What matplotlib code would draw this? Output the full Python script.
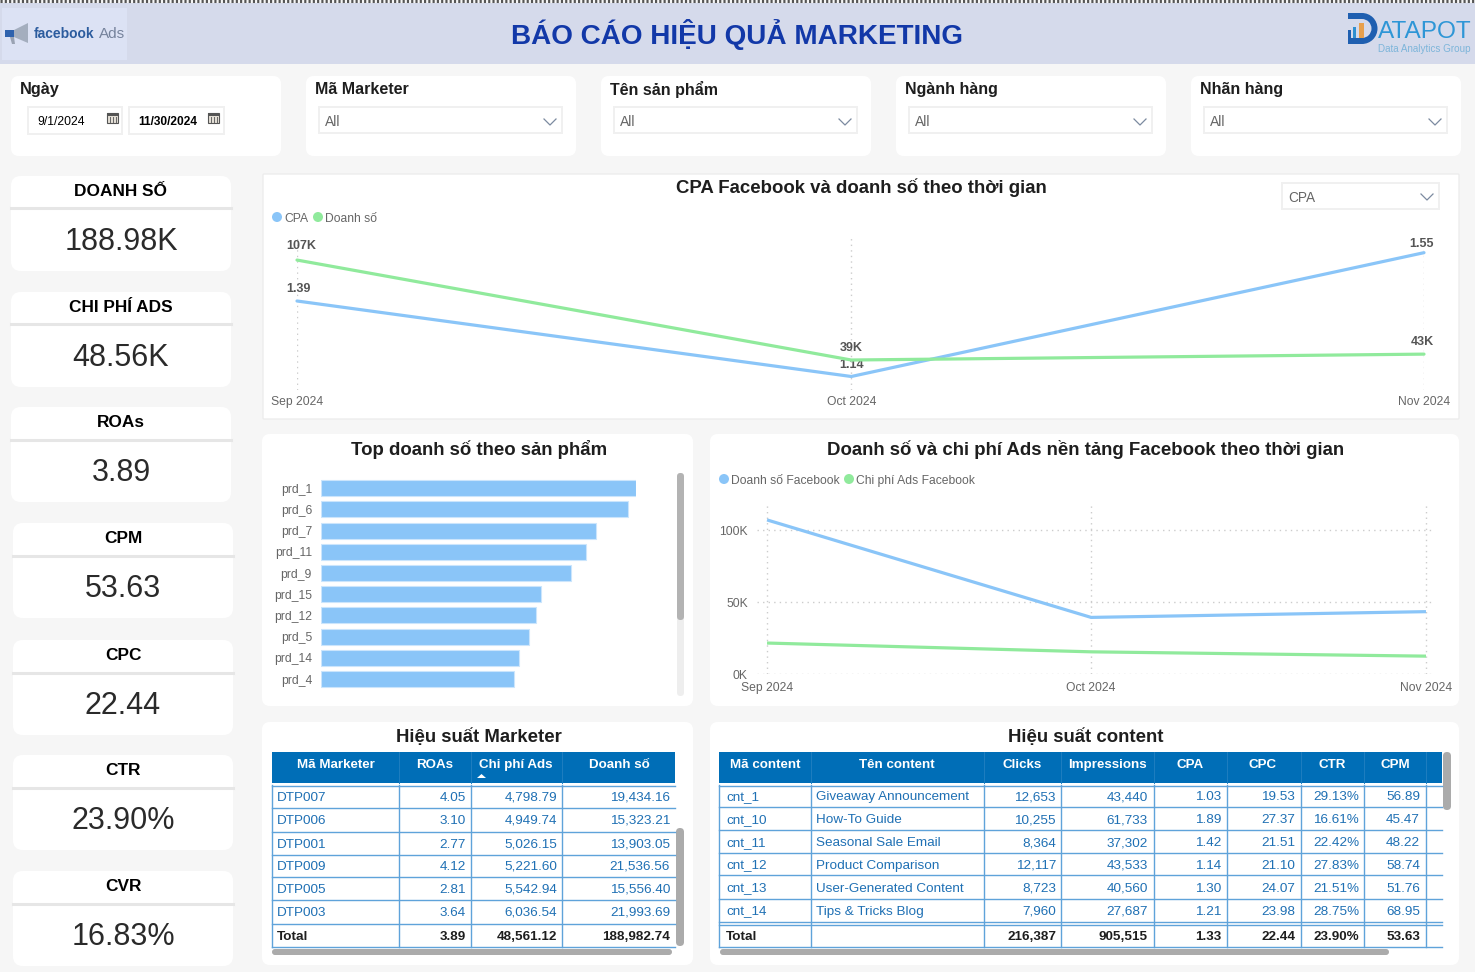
import matplotlib
matplotlib.use("Agg")
import matplotlib.pyplot as plt
import pandas as pd
from matplotlib.patches import FancyBboxPatch, Rectangle, Polygon, Wedge, Circle

plt.rcParams['font.family'] = ['Liberation Sans', 'DejaVu Sans']

W, H = 1475, 972

# Data
months = pd.to_datetime(["2024-09-01", "2024-10-01", "2024-11-01"])
month_labels = ["Sep 2024", "Oct 2024", "Nov 2024"]
cpa = [1.39, 1.14, 1.55]
sales_k = [107, 39, 43]
fb_sales_k = [107, 39.3, 43.3]
fb_spend_k = [21.5, 15.4, 12.4]

products = ["prd_1", "prd_6", "prd_7", "prd_11", "prd_9", "prd_15", "prd_12", "prd_5", "prd_14", "prd_4"]
product_sales = [18.9, 18.4, 16.5, 15.9, 15.0, 13.2, 12.9, 12.5, 11.9, 11.6]

kpi_names = ["DOANH SỐ", "CHI PHÍ ADS", "ROAs", "CPM", "CPC", "CTR", "CVR"]
kpi_values = ["188.98K", "48.56K", "3.89", "53.63", "22.44", "23.90%", "16.83%"]

filter_names = ["Mã Marketer", "Tên sản phẩm", "Ngành hàng", "Nhãn hàng"]

marketer_ids = ["DTP007", "DTP006", "DTP001", "DTP009", "DTP005", "DTP003"]
marketer_roas = [4.05, 3.10, 2.77, 4.12, 2.81, 3.64]
marketer_spend = [4798.79, 4949.74, 5026.15, 5221.60, 5542.94, 6036.54]
marketer_sales = [19434.16, 15323.21, 13903.05, 21536.56, 15556.40, 21993.69]
marketer_total = ["Total", "3.89", "48,561.12", "188,982.74"]

content_ids = ["cnt_1", "cnt_10", "cnt_11", "cnt_12", "cnt_13", "cnt_14"]
content_names = ["Giveaway Announcement", "How-To Guide", "Seasonal Sale Email",
                 "Product Comparison", "User-Generated Content", "Tips & Tricks Blog"]
content_clicks = [12653, 10255, 8364, 12117, 8723, 7960]
content_impr = [43440, 61733, 37302, 43533, 40560, 27687]
content_cpa = [1.03, 1.89, 1.42, 1.14, 1.30, 1.21]
content_cpc = [19.53, 27.37, 21.51, 21.10, 24.07, 23.98]
content_ctr = [29.13, 16.61, 22.42, 27.83, 21.51, 28.75]
content_cpm = [56.89, 45.47, 48.22, 58.74, 51.76, 68.95]
content_total = ["Total", "", "216,387", "905,515", "1.33", "22.44", "23.90%", "53.63"]

# Colours
BG = "#F6F6F6"
BAND = "#D5DAEB"
BLUE = "#8AC5F8"
GREEN = "#90EA9C"
DARK = "#1E1E1E"
GREY = "#666666"
HEAD = "#006EB7"
CELL = "#1F70B4"
RULE = "#5FA3DA"
DOTS = (0, (1, 3))

fig = plt.figure(figsize=(W / 100, H / 100), dpi=100, facecolor=BG)
bg = fig.add_axes([0, 0, 1, 1])
bg.set_xlim(0, W)
bg.set_ylim(H, 0)
bg.axis("off")


def px_axes(x0, y0, x1, y1):
    ax = fig.add_axes([x0 / W, 1 - y1 / H, (x1 - x0) / W, (y1 - y0) / H])
    ax.patch.set_alpha(0)
    for s in ax.spines.values():
        s.set_visible(False)
    return ax


def label(x, y, s, size=10, color=DARK, weight="normal", ha="left"):
    bg.text(x, y, s, fontsize=size, color=color, fontweight=weight, ha=ha, va="center_baseline")


def panel(x0, y0, x1, y1, r=8, edge="none"):
    bg.add_patch(FancyBboxPatch((x0 + r, y0 + r), x1 - x0 - 2 * r, y1 - y0 - 2 * r,
                                boxstyle=f"round,pad={r},rounding_size={r}",
                                fc="white", ec=edge, lw=1))


def box(x0, y0, x1, y1, edge="#F0F0F0"):
    bg.add_patch(Rectangle((x0, y0), x1 - x0, y1 - y0, fc="white", ec=edge, lw=1.4))


def chevron(x, y):
    bg.plot([x, x + 6, x + 12], [y, y + 6, y], color="#7C8AA0", lw=0.9)


def scrollbar(x0, y0, x1, y1, color="#ABABAB"):
    r = min(x1 - x0, y1 - y0) / 2
    bg.add_patch(FancyBboxPatch((x0 + r, y0 + r), x1 - x0 - 2 * r, y1 - y0 - 2 * r,
                                boxstyle=f"round,pad={r},rounding_size={r}", fc=color, ec="none"))


def calendar(x, y):
    bg.add_patch(Rectangle((x, y), 11, 10, fc="#E4DFD6", ec="#555555", lw=0.8))
    bg.add_patch(Rectangle((x, y), 11, 3, fc="#555555", ec="none"))
    for i in range(3):
        bg.plot([x + 2.5 + i * 3] * 2, [y + 4, y + 9], color="#666666", lw=0.7)


def legend_item(x, y, color, s):
    bg.add_patch(Circle((x, y), 5, fc=color, ec="none"))
    label(x + 7, y, s, 8.7, GREY)


# Header band
bg.add_patch(Rectangle((0, 3), W, 61, fc=BAND, ec="none"))
bg.plot([0, W], [1.5, 1.5], color="#555555", lw=2.2, ls=(0, (0.7, 0.7)))
label(737, 32, "BÁO CÁO HIỆU QUẢ MARKETING", 20.1, "#1238A8", "bold", "center")

# facebook Ads logo
bg.add_patch(Rectangle((2, 8), 125, 52, fc="#DCE2F4", ec="none"))
bg.add_patch(Polygon([(14, 30), (28, 23), (28, 43), (14, 37)], fc="#A4AEBE", ec="none"))
bg.add_patch(Rectangle((5, 30), 9, 7, fc="#2F62AD", ec="none"))
bg.add_patch(Polygon([(10, 37), (14, 37), (15, 44), (12, 44)], fc="#9AA3B3", ec="none"))
label(34, 33, "facebook", 10, "#2C5C9E", "bold")
label(99, 33, "Ads", 11, "#76839C")

# DATAPOT logo
bg.add_patch(Wedge((1362, 28.5), 15.5, -90, 90, width=6, fc="#1F5FB0", ec="none"))
bg.add_patch(Rectangle((1348, 13), 14, 6, fc="#1F5FB0", ec="none"))
bg.add_patch(Rectangle((1348, 38), 14, 6, fc="#1F5FB0", ec="none"))
bg.add_patch(Rectangle((1348, 30), 3, 8, fc="#1F5FB0", ec="none"))
bg.add_patch(Rectangle((1353, 27), 3, 11, fc="#2E8FD0", ec="none"))
bg.add_patch(Rectangle((1359, 23), 5, 15, fc="#E8A04C", ec="none"))
label(1378, 29, "ATAPOT", 17.6, "#2E96D6")
label(1378, 47.5, "Data Analytics Group", 7.1, "#7DB5DA")

# Date filter
panel(11, 76, 281, 156)
label(20, 88, "Ngày", 11.7, DARK, "bold")
box(28, 107, 122, 134)
box(129, 107, 224, 134)
label(37, 120.5, "9/1/2024", 8.8, "black")
label(138, 120.5, "11/30/2024", 8.6, "black", "bold")
calendar(107, 113)
calendar(208, 113)

# Dropdown filters
for i, name in enumerate(filter_names):
    x = 306 + 295 * i
    panel(x, 76, x + 270, 156)
    label(x + 9, 88, name, 11.5, DARK, "bold")
    box(x + 13, 107, x + 256, 133)
    label(x + 19, 120, "All", 10, GREY)
    chevron(x + 238, 119)

# KPI cards
card_x = [11, 11, 11, 13, 13, 13, 13]
card_y = [176, 292, 407, 523, 640, 755, 871]
for name, value, x, y in zip(kpi_names, kpi_values, card_x, card_y):
    panel(x, y, x + 220, y + 95, 10)
    label(x + 110, y + 14, name, 12.4, "black", "bold", "center")
    bg.plot([x, x + 220], [y + 32.5, y + 32.5], color="#E6E6E6", lw=2.2)
    label(x + 110, y + 62.5, value, 22, "#2A2A2A", "normal", "center")

# Chart panels
panel(263, 174, 1459, 419, 1, "#EDEDED")
panel(262, 434, 693, 706)
panel(710, 434, 1459, 706)
panel(262, 722, 693, 965)
panel(710, 722, 1459, 965)

label(861, 186, "CPA Facebook và doanh số theo thời gian", 13.4, DARK, "bold", "center")
label(479, 447, "Top doanh số theo sản phẩm", 13.4, DARK, "bold", "center")
label(1086, 447, "Doanh số và chi phí Ads nền tảng Facebook theo thời gian", 13.4, DARK, "bold", "center")
label(479, 735, "Hiệu suất Marketer", 13.4, DARK, "bold", "center")
label(1086, 735, "Hiệu suất content", 13.4, DARK, "bold", "center")

# CPA / doanh so chart, two independent y scales
box(1282, 183, 1439, 209)
label(1288, 196, "CPA", 9.8, GREY)
chevron(1421, 194)
legend_item(277, 217, BLUE, "CPA")
legend_item(318, 217, GREEN, "Doanh số")

ax1 = px_axes(297, 238, 1424, 390)
ax1.plot(months, cpa, color=BLUE, lw=2.3, clip_on=False, solid_capstyle="round")
ax1.set_xlim(months[0], months[-1])
ax1.set_ylim(1.0953, 1.5986)
ax1.set_yticks([])
ax1.set_xticks(months)
ax1.set_xticklabels(month_labels, fontsize=8.7, color=GREY)
ax1.tick_params(axis="x", length=0, pad=4)
ax1.grid(axis="x", color="#CCCCCC", ls=DOTS, lw=1)
ax1.set_axisbelow(True)

ax1b = ax1.twinx()
ax1b.patch.set_alpha(0)
for s in ax1b.spines.values():
    s.set_visible(False)
ax1b.plot(months, sales_k, color=GREEN, lw=2.3, clip_on=False, solid_capstyle="round")
ax1b.set_ylim(18.6, 122)
ax1b.set_yticks([])

cpa_offsets = [(1, 12), (0, 12), (-3, 9)]
sales_offsets = [(4, 14), (0, 12), (-2, 12)]
for d, v, off in zip(months, cpa, cpa_offsets):
    ax1.annotate(f"{v:.2f}", (d, v), xytext=(off[0] * 0.72, off[1] * 0.72), textcoords="offset points",
                 ha="center", va="center", fontsize=9, color="#555555", fontweight="bold", annotation_clip=False)
for d, v, off in zip(months, sales_k, sales_offsets):
    ax1b.annotate(f"{v}K", (d, v), xytext=(off[0] * 0.72, off[1] * 0.72), textcoords="offset points",
                  ha="center", va="center", fontsize=9, color="#555555", fontweight="bold", annotation_clip=False)

# Top products
ax2 = px_axes(321, 477.7, 636, 689.6)
ax2.barh(range(len(products)), product_sales, height=0.755, color=BLUE, edgecolor="#CBE5FC", lw=0.8)
ax2.set_xlim(0, max(product_sales))
ax2.set_ylim(len(products) - 0.5, -0.5)
ax2.set_xticks([])
ax2.set_yticks(range(len(products)))
ax2.set_yticklabels(products, fontsize=8.7, color=GREY)
ax2.tick_params(axis="y", length=0, pad=6.5)
scrollbar(677, 473, 684, 696, "#EEEEEE")
scrollbar(677, 473, 684, 620, "#B3B3B3")

# Facebook sales vs spend
legend_item(724, 479, BLUE, "Doanh số Facebook")
legend_item(849, 479, GREEN, "Chi phí Ads Facebook")

ax3 = px_axes(757, 503, 1433, 674)
ax3.plot(months, fb_sales_k, color=BLUE, lw=2.3, solid_capstyle="butt")
ax3.plot(months, fb_spend_k, color=GREEN, lw=2.3, solid_capstyle="butt")
ax3.set_xlim(months[0] - pd.Timedelta(days=0.93), months[-1] + pd.Timedelta(days=0.65))
ax3.set_ylim(0, 118.75)
ax3.set_xticks(months)
ax3.set_xticklabels(month_labels, fontsize=8.7, color=GREY)
ax3.set_yticks([0, 50, 100])
ax3.set_yticklabels(["0K", "50K", "100K"], fontsize=8.7, color=GREY)
ax3.tick_params(axis="both", length=0)
ax3.tick_params(axis="x", pad=5.5)
ax3.tick_params(axis="y", pad=6.5)
ax3.grid(color="#CCCCCC", ls=DOTS, lw=1)
ax3.set_axisbelow(True)


def draw_table(col_x, right_end, head_centers, heads, row_y, text_y, total_y, rows, total, aligns, text_x):
    # header block
    bg.add_patch(Rectangle((col_x[0], 752), right_end - col_x[0], 31, fc=HEAD, ec="none"))
    for cx in col_x[1:]:
        bg.plot([cx, cx], [752, 783], color="#1E7EC0", lw=0.7)
    for cx, s in zip(head_centers, heads):
        label(cx, 763, s, 9.6, "white", "bold", "center")
    # rules
    for y in row_y:
        bg.plot([col_x[0], right_end], [y, y], color=RULE, lw=1)
    for cx in col_x:
        bg.plot([cx, cx], [785, row_y[-1]], color=RULE, lw=1)
    # cells
    for row, y in zip(rows, text_y):
        for s, a, x in zip(row, aligns, text_x):
            label(x, y, s, 9.7, CELL, "normal", a)
    for s, a, x in zip(total, aligns, text_x):
        label(x, total_y, s, 9.7, DARK, "bold", a)


marketer_rows = [[i, f"{r:.2f}", f"{c:,.2f}", f"{s:,.2f}"]
                 for i, r, c, s in zip(marketer_ids, marketer_roas, marketer_spend, marketer_sales)]
draw_table([272, 399, 471, 562], 675, [336, 435, 516, 619],
           ["Mã Marketer", "ROAs", "Chi phí Ads", "Doanh số"],
           [785.5, 808, 831.5, 855, 877, 900, 924, 947],
           [796, 819, 843, 865, 888, 911], 935, marketer_rows, marketer_total,
           ["left", "right", "right", "right"], [277, 466, 557, 670])
bg.add_patch(Polygon([(477, 778), (486, 778), (481.5, 774)], fc="white", ec="none"))
scrollbar(676, 828, 684, 946)
scrollbar(272, 949, 672, 955)

content_rows = [[i, n, f"{c:,}", f"{m:,}", f"{a:.2f}", f"{p:.2f}", f"{t:.2f}%", f"{k:.2f}"]
                for i, n, c, m, a, p, t, k in zip(content_ids, content_names, content_clicks, content_impr,
                                                  content_cpa, content_cpc, content_ctr, content_cpm)]
draw_table([719, 810.5, 983.5, 1061, 1153.5, 1226.5, 1300.5, 1364, 1426], 1442,
           [765, 897, 1022, 1107, 1190, 1263, 1332, 1395],
           ["Mã content", "Tên content", "Clicks", "Impressions", "CPA", "CPC", "CTR", "CPM"],
           [785.5, 807, 830, 853, 875, 899, 921.5, 924.5, 947],
           [795.5, 818.5, 841.5, 864, 887, 910], 935, content_rows, content_total,
           ["left", "left", "right", "right", "right", "right", "right", "right"],
           [726, 816, 1056, 1148, 1221, 1295, 1359, 1420])
scrollbar(1443, 752, 1451, 810)
scrollbar(720, 949, 1389, 955)

fig.savefig("out.png", dpi=100, facecolor=BG)
